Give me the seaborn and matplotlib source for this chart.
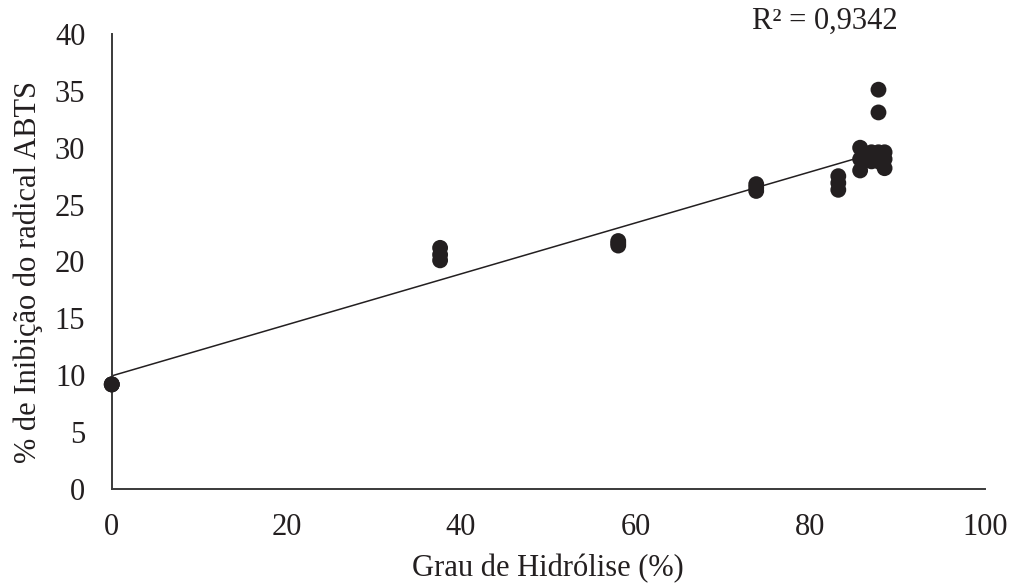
import numpy as np
import pandas as pd
import matplotlib
matplotlib.use("Agg")
import matplotlib.pyplot as plt
import seaborn as sns

# Degree of hydrolysis (%) and ABTS radical inhibition (%) per replicate
grau_hidrolise = [0.0, 0.0, 0.0,
                  37.6, 37.6, 37.6,
                  58.0, 58.0, 58.0,
                  73.8, 73.8, 73.8,
                  83.2, 83.2, 83.2,
                  85.7, 85.7, 85.7,
                  87.0, 87.0,
                  87.8, 87.8, 87.8, 87.8,
                  88.5, 88.5, 88.5]
inibicao_abts = [9.2, 9.2, 9.2,
                 20.1, 20.6, 21.2,
                 21.4, 21.6, 21.8,
                 26.2, 26.5, 26.8,
                 26.3, 26.9, 27.5,
                 28.0, 29.0, 30.0,
                 28.8, 29.6,
                 35.1, 33.1, 29.6, 28.8,
                 28.2, 29.0, 29.6]
r2_label = "R² = 0,9342"

x_ticks = [0, 20, 40, 60, 80, 100]
y_ticks = [0, 5, 10, 15, 20, 25, 30, 35, 40]

df = pd.DataFrame({"grau": grau_hidrolise, "inib": inibicao_abts})

sns.set_style("white")
plt.rcParams["font.family"] = ["Liberation Serif", "DejaVu Serif"]

ink = "#231f20"
fs = 22

fig = plt.figure(figsize=(10.16, 5.85), dpi=100)
ax = fig.add_axes([0.110, 0.164, 0.8595, 0.778])

# Linear trendline over the data range
sns.regplot(data=df, x="grau", y="inib", ax=ax, scatter=False, ci=None,
            truncate=True, line_kws={"color": ink, "lw": 1.1, "zorder": 2})

sns.scatterplot(data=df, x="grau", y="inib", ax=ax, s=130, color=ink,
                edgecolor="none", linewidth=0, zorder=3, clip_on=False)

ax.set_xlim(0, 100)
ax.set_ylim(0, 40)
ax.set_xticks(x_ticks)
ax.set_yticks(y_ticks)
ax.tick_params(axis="both", length=0, labelsize=fs, colors=ink)
ax.tick_params(axis="x", pad=17)
ax.tick_params(axis="y", pad=19)

for side in ["top", "right"]:
    ax.spines[side].set_visible(False)
for side in ["left", "bottom"]:
    ax.spines[side].set_color("#3a3a3a")
    ax.spines[side].set_linewidth(1.4)

ax.set_xlabel("")
ax.set_ylabel("")
fig.text(548 / 1016, 1 - 569 / 585, "Grau de Hidrólise (%)", fontsize=fs,
         color=ink, ha="center", va="center")
fig.text(28 / 1016, 1 - 272 / 585, "% de Inibição do radical ABTS", fontsize=fs,
         color=ink, ha="center", va="center", rotation=90)

fig.text(825 / 1016, 1 - 21 / 585, r2_label, fontsize=fs, color=ink,
         ha="center", va="center")

fig.savefig("out.png", dpi=100)
